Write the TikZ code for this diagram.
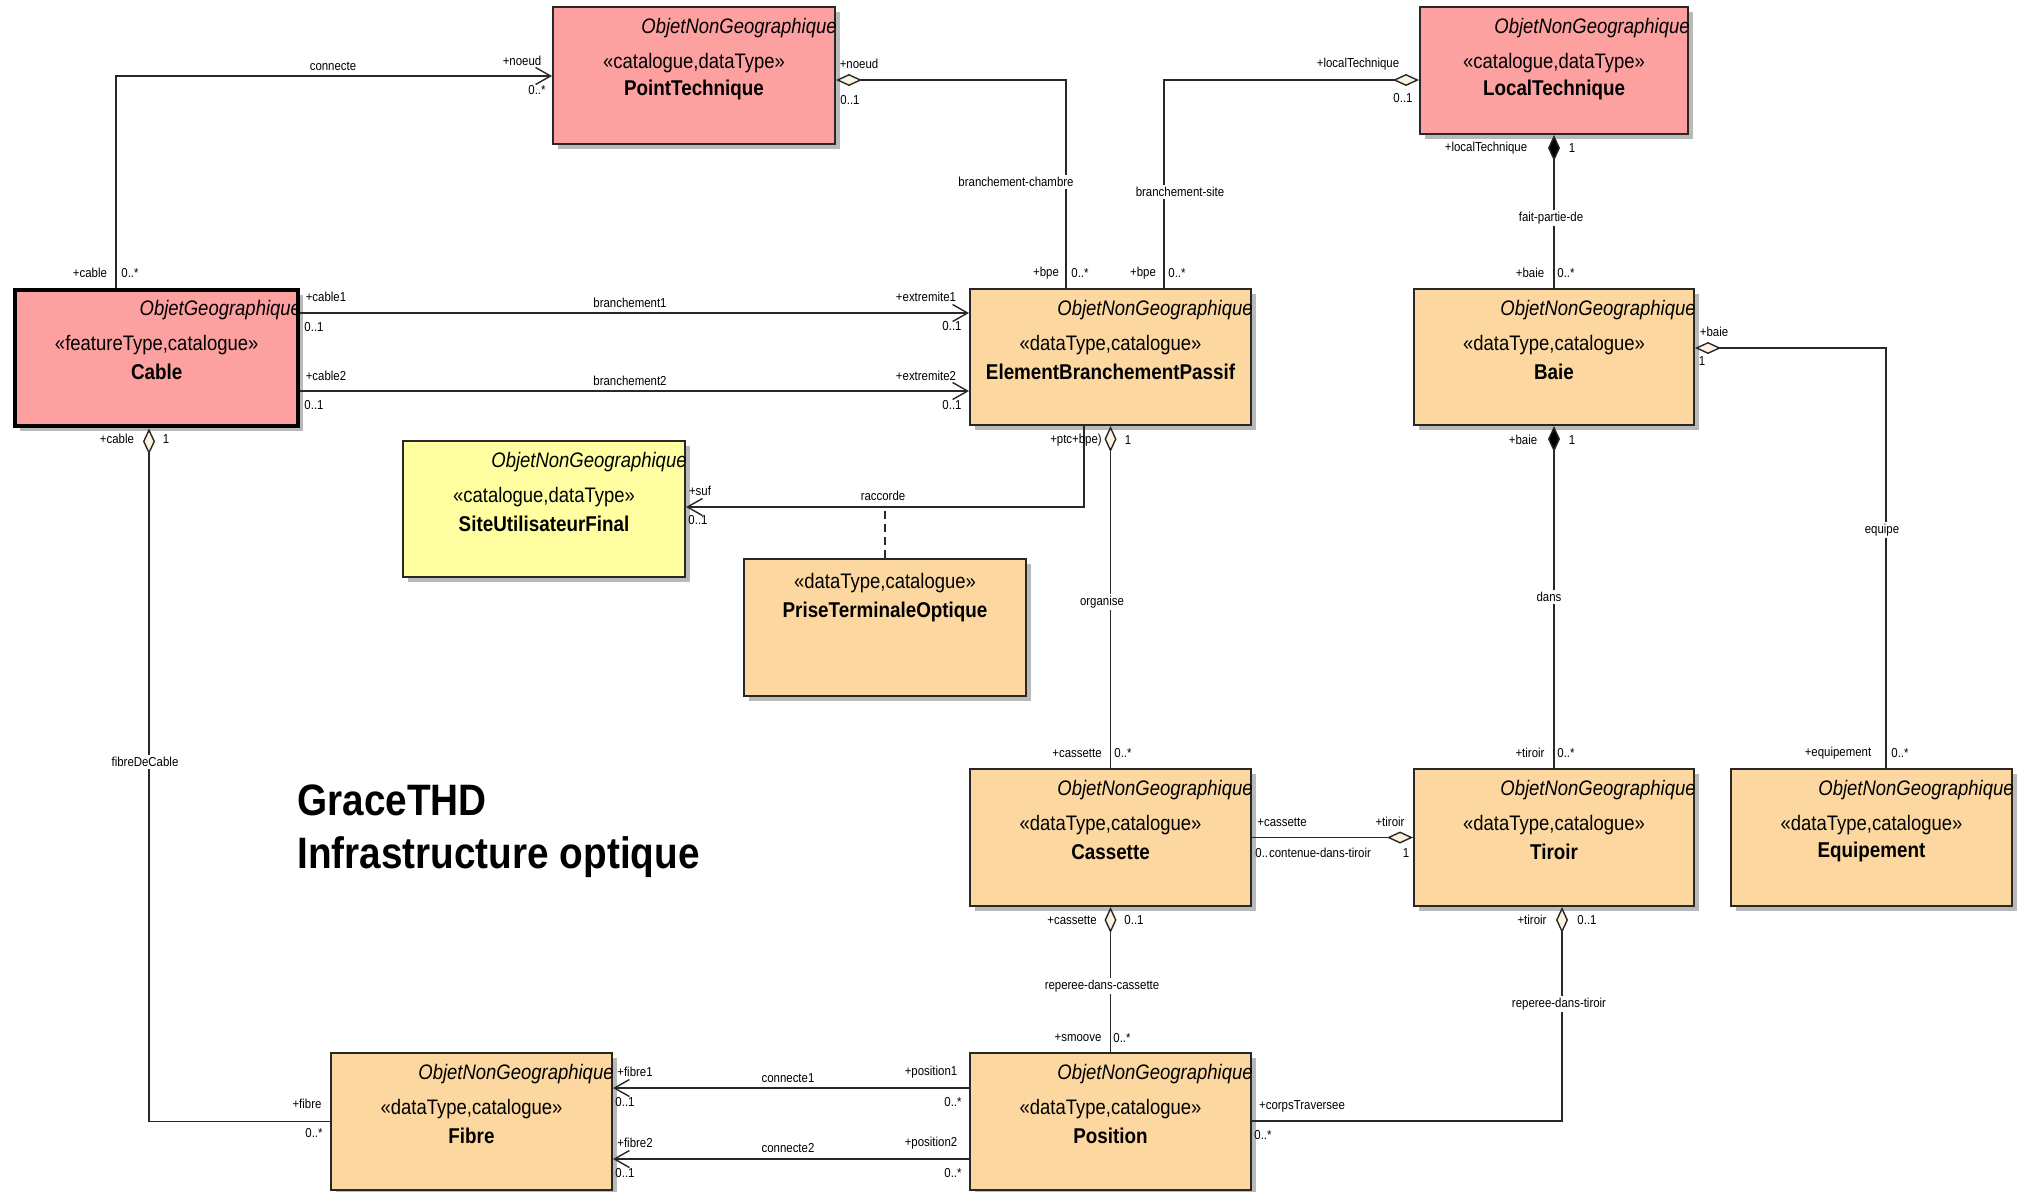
\documentclass[tikz,border=0pt]{standalone}
\usepackage{fontspec}
\setmainfont{Liberation Sans}[FakeStretch=0.88]
\usetikzlibrary{arrows.meta,calc,shadows}
\definecolor{pinkc}{RGB}{252,160,160}
\definecolor{orc}{RGB}{252,216,160}
\definecolor{yelc}{RGB}{255,255,162}
\definecolor{creamc}{RGB}{253,242,224}
\definecolor{shadc}{RGB}{185,185,185}
\definecolor{linec}{RGB}{40,40,40}
\tikzset{
 clsbox/.style={draw=linec, line width=1pt, inner sep=0pt, drop shadow={shadow xshift=2.5pt,shadow yshift=-2.5pt,fill=shadc,opacity=1}},
 itx/.style={inner sep=0pt, font=\fontsize{10.5}{12}\selectfont\itshape},
 stx/.style={inner sep=0pt, font=\fontsize{10.5}{12}\selectfont},
 nmx/.style={inner sep=0pt, font=\fontsize{10.7}{12}\selectfont\bfseries},
 lbl/.style={inner sep=0pt, font=\fontsize{6.5}{8}\selectfont},
 anm/.style={lbl, fill=white, inner sep=1pt},
 assoc/.style={draw=linec, line width=0.7pt},
 nav/.tip={Straight Barb[length=7.5pt,width=8.5pt]},
 odia/.tip={Diamond[fill=creamc,length=13pt,width=6pt]},
 fdia/.tip={Diamond[fill=black,length=13pt,width=6pt]},
}
\newcommand\umlcls[9]{%
 \node[clsbox, #6, minimum width={#4*0.5pt}, minimum height={#5*0.5pt}, anchor=north west] (#1) at (#2,#3) {};
 \node[itx, anchor=east] (#1-i) at ($(#1.north east)+(1,22)$) {#7};
 \node[stx] (#1-s) at ($(#1.north)+(0,57)$) {#8};
 \node[nmx] (#1-n) at ($(#1.north)+(0,84)$) {#9};
}
\newcommand\rolelbl[4]{\node[lbl] (#1) at (#2,#3) {#4};}
\newcommand\assocname[4]{\node[anm] (#1) at (#2,#3) {#4};}
\begin{document}
\begin{tikzpicture}[x=0.5pt,y=-0.5pt]
\useasboundingbox (0,0) rectangle (2027,1191);
% classes
\umlcls{ptech}{552}{6}{282}{137}{fill=pinkc}{ObjetNonGeographique}{«catalogue,dataType»}{PointTechnique}
\umlcls{ltech}{1419}{6}{268}{127}{fill=pinkc}{ObjetNonGeographique}{«catalogue,dataType»}{LocalTechnique}
\umlcls{cable}{13}{288}{283}{136}{fill=pinkc,draw=black,line width=2.2pt}{ObjetGeographique}{«featureType,catalogue»}{Cable}
\umlcls{ebp}{969}{288}{281}{136}{fill=orc}{ObjetNonGeographique}{«dataType,catalogue»}{ElementBranchementPassif}
\umlcls{baie}{1413}{288}{280}{136}{fill=orc}{ObjetNonGeographique}{«dataType,catalogue»}{Baie}
\umlcls{suf}{402}{440}{282}{136}{fill=yelc}{ObjetNonGeographique}{«catalogue,dataType»}{SiteUtilisateurFinal}
\node[clsbox, fill=orc, minimum width=141pt, minimum height=68.5pt, anchor=north west] (pto) at (743,558) {};
\node[stx] (pto-s) at ($(pto.north)+(0,25)$) {«dataType,catalogue»};
\node[nmx] (pto-n) at ($(pto.north)+(0,54)$) {PriseTerminaleOptique};
\umlcls{cass}{969}{768}{281}{137}{fill=orc}{ObjetNonGeographique}{«dataType,catalogue»}{Cassette}
\umlcls{tiroir}{1413}{768}{280}{137}{fill=orc}{ObjetNonGeographique}{«dataType,catalogue»}{Tiroir}
\umlcls{equip}{1730}{768}{281}{137}{fill=orc}{ObjetNonGeographique}{«dataType,catalogue»}{Equipement}
\umlcls{fibre}{330}{1052}{281}{137}{fill=orc}{ObjetNonGeographique}{«dataType,catalogue»}{Fibre}
\umlcls{pos}{969}{1052}{281}{137}{fill=orc}{ObjetNonGeographique}{«dataType,catalogue»}{Position}
% title
\node[font=\fontsize{22}{26}\selectfont\bfseries, anchor=west, inner sep=0pt] (t1) at (297,800) {GraceTHD};
\node[font=\fontsize{22}{26}\selectfont\bfseries, anchor=west, inner sep=0pt] (t2) at (297,857) {Infrastructure optique};
% connectors
\draw[assoc,-nav] ($(cable.north west)+(103,0)$) |- ($(ptech.north west)+(0,70)$);
\draw[assoc,-nav] ($(cable.north east)+(0,25)$) -- ($(ebp.north west)+(0,25)$);
\draw[assoc,-nav] ($(cable.north east)+(0,103)$) -- ($(ebp.north west)+(0,103)$);
\draw[assoc,odia-] ($(ptech.north east)+(0,74)$) -| ($(ebp.north west)+(97,0)$);
\draw[assoc,odia-] ($(ltech.north west)+(0,74)$) -| ($(ebp.north west)+(195,0)$);
\draw[assoc,fdia-] (ltech.south) -- (baie.north);
\draw[assoc,odia-] ($(baie.north east)+(0,60)$) -| ($(equip.north west)+(156,0)$);
\draw[assoc,odia-] (ebp.south) -- (cass.north);
\coordinate (sufa) at ($(suf.north east)+(0,67)$);
\draw[assoc,-nav] ($(ebp.south west)+(115,0)$) |- (sufa);
\draw[assoc,dash pattern=on 4pt off 2.5pt] (pto.north) -- (pto.north |- sufa);
\draw[assoc,fdia-] (baie.south) -- (tiroir.north);
\draw[assoc,-odia] (cass.east) -- (tiroir.west);
\draw[assoc,odia-] ($(cable.south west)+(136,0)$) |- (fibre.west);
\draw[assoc,-nav] ($(pos.north west)+(0,36)$) -- ($(fibre.north east)+(0,36)$);
\draw[assoc,-nav] ($(pos.north west)+(0,107)$) -- ($(fibre.north east)+(0,107)$);
\draw[assoc,odia-] (cass.south) -- (pos.north);
\draw[assoc,odia-] ($(tiroir.south west)+(149,0)$) |- ($(pos.north east)+(0,69)$);
% labels
\assocname{a1}{333}{66}{connecte}
\rolelbl{r1}{522}{61}{+noeud}
\rolelbl{r2}{537}{90}{0..*}
\rolelbl{r3}{90}{273}{+cable}
\rolelbl{r4}{130}{273}{0..*}
\rolelbl{r5}{326}{297}{+cable1}
\rolelbl{r6}{314}{327}{0..1}
\assocname{a2}{630}{303}{branchement1}
\rolelbl{r7}{926}{297}{+extremite1}
\rolelbl{r8}{952}{326}{0..1}
\rolelbl{r9}{326}{376}{+cable2}
\rolelbl{r10}{314}{405}{0..1}
\assocname{a3}{630}{381}{branchement2}
\rolelbl{r11}{926}{376}{+extremite2}
\rolelbl{r12}{952}{405}{0..1}
\rolelbl{r13}{859}{64}{+noeud}
\rolelbl{r14}{850}{100}{0..1}
\assocname{a4}{1016}{182}{branchement-chambre}
\rolelbl{r15}{1046}{273}{+bpe}
\rolelbl{r16}{1080}{273}{0..*}
\rolelbl{r17}{1358}{64}{+localTechnique}
\rolelbl{r18}{1403}{98}{0..1}
\assocname{a5}{1180}{192}{branchement-site}
\rolelbl{r19}{1143}{273}{+bpe}
\rolelbl{r20}{1177}{273}{0..*}
\rolelbl{r21}{1486}{148}{+localTechnique}
\rolelbl{r22}{1572}{148}{1}
\assocname{a6}{1551}{218}{fait-partie-de}
\rolelbl{r23}{1530}{273}{+baie}
\rolelbl{r24}{1566}{273}{0..*}
\rolelbl{r25}{1714}{332}{+baie}
\rolelbl{r26}{1702}{361}{1}
\assocname{a7}{1882}{530}{equipe}
\rolelbl{r27}{1838}{753}{+equipement}
\rolelbl{r28}{1900}{753}{0..*}
\rolelbl{r29}{1076}{440}{+ptc+bpe)}
\rolelbl{r30}{1128}{440}{1}
\assocname{a8}{1102}{602}{organise}
\rolelbl{r31}{1077}{753}{+cassette}
\rolelbl{r32}{1123}{753}{0..*}
\rolelbl{r33}{1523}{440}{+baie}
\rolelbl{r34}{1572}{440}{1}
\assocname{a9}{1549}{597}{dans}
\rolelbl{r35}{1530}{753}{+tiroir}
\rolelbl{r36}{1566}{753}{0..*}
\rolelbl{r37}{700}{491}{+suf}
\rolelbl{r38}{698}{520}{0..1}
\assocname{a10}{883}{496}{raccorde}
\rolelbl{r39}{1282}{822}{+cassette}
\node[lbl, anchor=west] (r40) at (1255,853) {0..*};
\assocname{a11}{1320}{853}{contenue-dans-tiroir}
\rolelbl{r41}{1390}{822}{+tiroir}
\rolelbl{r42}{1406}{853}{1}
\rolelbl{r43}{117}{439}{+cable}
\rolelbl{r44}{166}{439}{1}
\assocname{a12}{145}{762}{fibreDeCable}
\rolelbl{r45}{307}{1104}{+fibre}
\rolelbl{r46}{314}{1133}{0..*}
\rolelbl{r47}{635}{1072}{+fibre1}
\rolelbl{r48}{625}{1102}{0..1}
\assocname{a13}{788}{1078}{connecte1}
\rolelbl{r49}{931}{1072}{+position1}
\rolelbl{r50}{953}{1102}{0..*}
\rolelbl{r51}{635}{1143}{+fibre2}
\rolelbl{r52}{625}{1173}{0..1}
\assocname{a14}{788}{1148}{connecte2}
\rolelbl{r53}{931}{1143}{+position2}
\rolelbl{r54}{953}{1173}{0..*}
\rolelbl{r55}{1072}{920}{+cassette}
\rolelbl{r56}{1134}{920}{0..1}
\assocname{a15}{1102}{986}{reperee-dans-cassette}
\rolelbl{r57}{1078}{1038}{+smoove}
\rolelbl{r58}{1122}{1038}{0..*}
\rolelbl{r59}{1532}{920}{+tiroir}
\rolelbl{r60}{1587}{920}{0..1}
\assocname{a16}{1559}{1004}{reperee-dans-tiroir}
\rolelbl{r61}{1302}{1106}{+corpsTraversee}
\rolelbl{r62}{1263}{1135}{0..*}
\end{tikzpicture}
\end{document}
